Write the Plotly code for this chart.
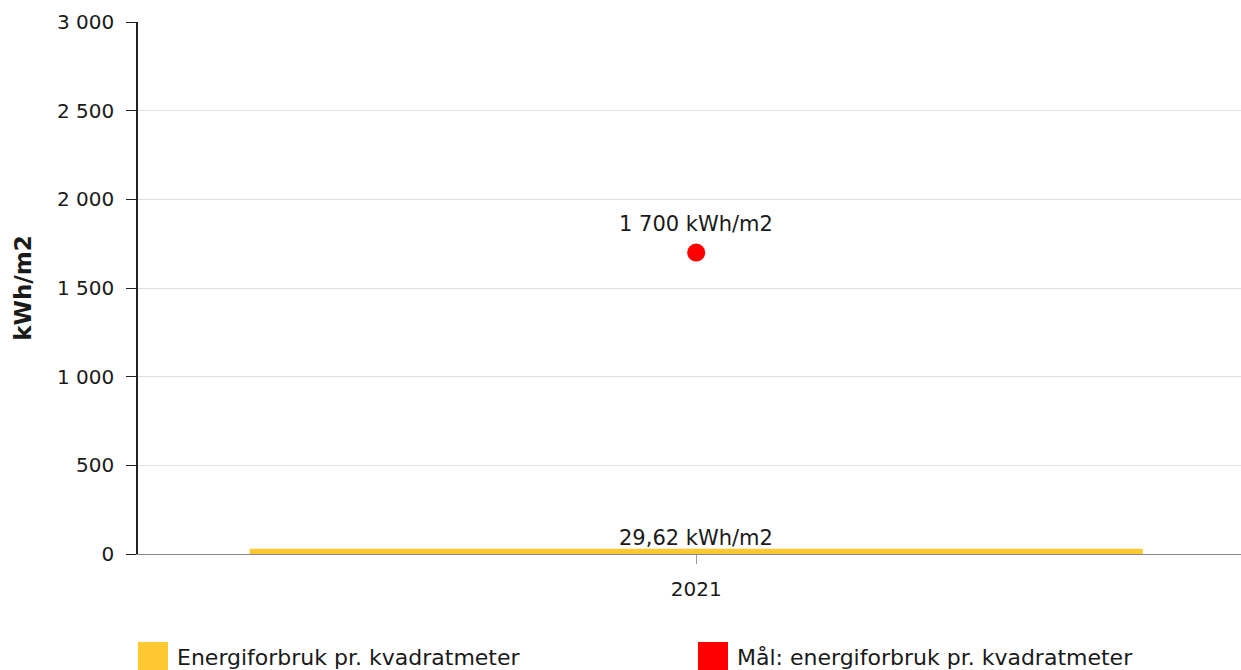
import plotly.graph_objects as go

# Data
years = ["2021"]
energy_use = [29.62]          # kWh/m2
target = [1700]               # kWh/m2
y_ticks = [0, 500, 1000, 1500, 2000, 2500, 3000]

series_names = ["Energiforbruk pr. kvadratmeter", "Mål: energiforbruk pr. kvadratmeter"]
colors = ["#FFC832", "#FF0000"]

FONT = "DejaVu Sans, Verdana, sans-serif"
TXT = "#1a1a1a"


def fmt_int(v):
    return f"{v:,.0f}".replace(",", " ")


def fmt_dec(v):
    return f"{v:.2f}".replace(".", ",")


fig = go.Figure()

fig.add_trace(go.Bar(
    x=years, y=energy_use,
    width=0.8,
    marker=dict(color=colors[0], line=dict(width=0)),
    name=series_names[0],
    showlegend=False,
))

fig.add_trace(go.Scatter(
    x=years, y=target,
    mode="markers",
    marker=dict(color=colors[1], size=18),
    name=series_names[1],
    showlegend=False,
))

# Value labels above the bar and the target point (category index on x)
for i, v in enumerate(energy_use):
    fig.add_annotation(x=i, y=v, text=f"{fmt_dec(v)} kWh/m2", showarrow=False,
                       yanchor="middle", yshift=11,
                       font=dict(family=FONT, size=21, color=TXT))
for i, v in enumerate(target):
    fig.add_annotation(x=i, y=v, text=f"{fmt_int(v)} kWh/m2", showarrow=False,
                       yanchor="middle", yshift=29,
                       font=dict(family=FONT, size=21, color=TXT))

fig.update_layout(
    width=1241, height=670,
    margin=dict(l=138, r=0, t=22, b=116),
    paper_bgcolor="white", plot_bgcolor="white",
    separators=", ",
    font=dict(family=FONT, size=20, color=TXT),
    xaxis=dict(
        type="category",
        range=[-0.5, 0.488],
        showgrid=False,
        showline=True, linecolor="#888888", linewidth=1,
        ticks="outside", ticklen=9, tickcolor="#999999",
        tickfont=dict(family=FONT, size=20, color=TXT),
        ticklabelstandoff=8,
    ),
    yaxis=dict(
        range=[0, 3000],
        tickvals=y_ticks,
        ticktext=[fmt_int(v) for v in y_ticks],
        showgrid=True, gridcolor="#DDDDDD", gridwidth=1,
        showline=True, linecolor="#222222", linewidth=1.5,
        ticks="outside", ticklen=10, tickcolor="#222222",
        tickfont=dict(family=FONT, size=20, color=TXT),
        ticklabelstandoff=8,
        zeroline=False,
        title=dict(text="<b>kWh/m2</b>", font=dict(family=FONT, size=23, color=TXT), standoff=19),
    ),
)

# Legend drawn as swatches and labels below the plot
legend_x = [138, 698]
for name, color, lx in zip(series_names, colors, legend_x):
    fig.add_shape(
        type="rect", xref="paper", yref="paper",
        x0=(lx - 138) / 1103, x1=(lx + 30 - 138) / 1103,
        y0=(554 - 670) / 532, y1=(554 - 642) / 532,
        fillcolor=color, line=dict(width=0),
    )
    fig.add_annotation(
        xref="paper", yref="paper",
        x=(lx + 37 - 138) / 1103, y=(554 - 657) / 532,
        text=name, showarrow=False,
        xanchor="left", yanchor="middle",
        font=dict(family=FONT, size=22, color=TXT),
    )

fig.write_html("out.html")
